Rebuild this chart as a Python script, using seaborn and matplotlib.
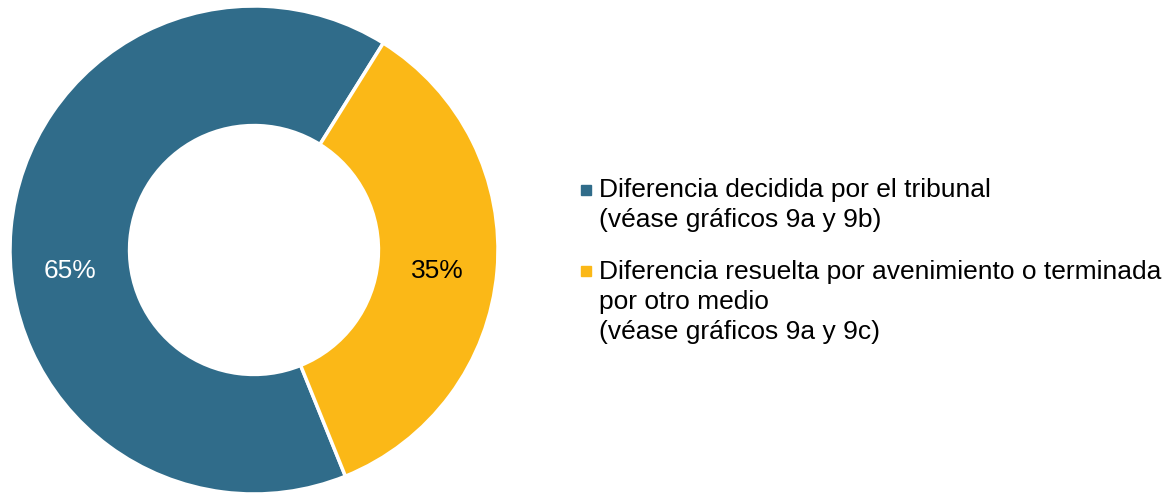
import matplotlib
matplotlib.use("Agg")
import matplotlib.pyplot as plt
from matplotlib.lines import Line2D
import seaborn as sns

categories = [
    "Diferencia decidida por el tribunal\n(véase gráficos 9a y 9b)",
    "Diferencia resuelta por avenimiento o terminada\npor otro medio\n(véase gráficos 9a y 9c)",
]
shares = [65, 35]
colors = ["#306C8A", "#FBB817"]
label_colors = ["white", "black"]

sns.set_theme(style="white")
plt.rcParams["font.family"] = ["Liberation Sans", "DejaVu Sans"]

fig = plt.figure(figsize=(11.7, 4.93), dpi=100)
ax = fig.add_axes([10 / 1170, -1 / 493, 488 / 1170, 488 / 493])

wedges, texts, autotexts = ax.pie(
    shares,
    colors=sns.color_palette(colors),
    startangle=58,
    counterclock=True,
    autopct="%1.0f%%",
    pctdistance=0.755,
    wedgeprops=dict(width=0.49, edgecolor="white", linewidth=2.5),
    textprops=dict(fontsize=19),
)
# labels sit just below the horizontal midline
for t, c in zip(autotexts, label_colors):
    t.set_color(c)
    x, y = t.get_position()
    t.set_position((x, -0.085))
ax.set_xlim(-1, 1)
ax.set_ylim(-1, 1)
ax.set_aspect("equal")

handles = [
    Line2D([0], [0], marker="s", linestyle="none", markersize=6.5,
           markerfacecolor=c, markeredgecolor=c)
    for c in colors
]
leg = fig.legend(
    handles, categories,
    loc="upper left",
    bbox_to_anchor=(567 / 1170, 1 - 165 / 493),
    frameon=False,
    fontsize=19,
    handlelength=0.45,
    handletextpad=0.27,
    labelspacing=1.07,
    borderpad=0,
)
# move each marker up to the first line of its label
line_pt = 31 * 72 / 100
for h, txt in zip(leg.legend_handles, leg.get_texts()):
    txt.set_color("black")
    txt.set_linespacing(1.3)
    n = txt.get_text().count("\n")
    h.set_ydata(h.get_ydata() + n * line_pt / 2)

fig.savefig("out.png", dpi=100)
